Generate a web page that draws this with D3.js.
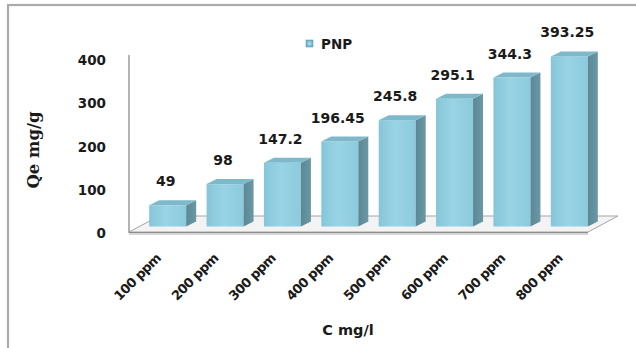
<!DOCTYPE html>
<html>
<head>
<meta charset="utf-8">
<script src="https://cdn.jsdelivr.net/npm/d3@7"></script>
<style>
  html, body { margin: 0; padding: 0; background: #fff; }
  svg { display: block; }
  text { font-family: "DejaVu Sans", sans-serif; font-weight: bold; fill: #1a1a1a; }
</style>
</head>
<body>
<svg id="chart" width="636" height="348"></svg>
<script>
// Adsorption capacity of PNP at increasing initial concentrations
const categories = ["100 ppm", "200 ppm", "300 ppm", "400 ppm", "500 ppm", "600 ppm", "700 ppm", "800 ppm"];
const pnpValues = [49, 98, 147.2, 196.45, 245.8, 295.1, 344.3, 393.25];
const valueLabels = ["49", "98", "147.2", "196.45", "245.8", "295.1", "344.3", "393.25"];
const yTicks = [0, 100, 200, 300, 400];
const seriesName = "PNP";
const xTitle = "C mg/l";
const yTitle = "Qe mg/g";

const svg = d3.select("#chart");
const defs = svg.append("defs");

// Outer chart frame
svg.append("rect")
  .attr("x", 8).attr("y", 5).attr("width", 660).attr("height", 380)
  .attr("fill", "none").attr("stroke", "#ababab").attr("stroke-width", 2.2);

// Scales
const plotLeft = 129, plotRight = 588;
const y = d3.scaleLinear().domain([0, 400]).range([233, 60]);
const x = d3.scaleBand().domain(categories).range([plotLeft, plotRight])
  .paddingInner(0.355).paddingOuter(0.1775);

// 3-D geometry: floor depth and column position/depth within it
const floorDx = 30, floorDy = -16;
const barShiftX = 10, barShiftY = -6.5;
const barDepthX = 10, barDepthY = -5;

// Gradients for column faces
const gFront = defs.append("linearGradient").attr("id", "front").attr("x1", 0).attr("x2", 1).attr("y1", 0).attr("y2", 0);
gFront.append("stop").attr("offset", "0%").attr("stop-color", "#86c5d8");
gFront.append("stop").attr("offset", "45%").attr("stop-color", "#99d4e5");
gFront.append("stop").attr("offset", "100%").attr("stop-color", "#8bcadd");
const gSide = defs.append("linearGradient").attr("id", "side").attr("x1", 0).attr("x2", 1).attr("y1", 0).attr("y2", 0);
gSide.append("stop").attr("offset", "0%").attr("stop-color", "#5c8895");
gSide.append("stop").attr("offset", "100%").attr("stop-color", "#6a98a5");
const gLegend = defs.append("radialGradient").attr("id", "legendFill");
gLegend.append("stop").attr("offset", "0%").attr("stop-color", "#b4e6f2");
gLegend.append("stop").attr("offset", "100%").attr("stop-color", "#6aaabd");

// Floor
const y0 = y(0) - 1;
svg.append("polygon")
  .attr("points", [
    [plotLeft, y0], [plotRight, y0],
    [plotRight + floorDx, y0 + floorDy], [plotLeft + floorDx, y0 + floorDy]
  ].map(p => p.join(",")).join(" "))
  .attr("fill", "#f3f3f3").attr("stroke", "#a5a5a5").attr("stroke-width", 1);
svg.append("line")
  .attr("x1", plotLeft).attr("x2", plotRight).attr("y1", y0 + 2).attr("y2", y0 + 2)
  .attr("stroke", "#d6d6d6").attr("stroke-width", 2);

// Vertical axis line
svg.append("line")
  .attr("x1", plotLeft).attr("x2", plotLeft).attr("y1", 55).attr("y2", y0 + 1)
  .attr("stroke", "#8c8c8c").attr("stroke-width", 1.3);
svg.append("line")
  .attr("x1", plotLeft).attr("x2", plotRight).attr("y1", y0 + 0.5).attr("y2", y0 + 0.5)
  .attr("stroke", "#8c8c8c").attr("stroke-width", 1.2);

// Y tick labels
svg.append("g").selectAll("text").data(yTicks).join("text")
  .attr("x", 106).attr("y", d => y(d))
  .attr("text-anchor", "end").attr("dominant-baseline", "central")
  .style("font-size", "13.5px")
  .text(d => d);

// Columns
const bars = svg.append("g").selectAll("g").data(pnpValues).join("g");
const bw = x.bandwidth();
const fx = (d, i) => x(categories[i]) + barShiftX;
const base = y(0) + barShiftY;
const barTop = d => base - (y(0) - y(d));

bars.append("rect")
  .attr("x", fx).attr("y", d => barTop(d))
  .attr("width", bw).attr("height", d => base - barTop(d))
  .attr("fill", "url(#front)");
bars.append("polygon")
  .attr("points", (d, i) => {
    const l = fx(d, i) + bw, t = barTop(d);
    return [[l, t], [l + barDepthX, t + barDepthY], [l + barDepthX, base + barDepthY], [l, base]]
      .map(p => p.join(",")).join(" ");
  })
  .attr("fill", "url(#side)");
bars.append("polygon")
  .attr("points", (d, i) => {
    const l = fx(d, i), t = barTop(d);
    return [[l, t], [l + bw, t], [l + bw + barDepthX, t + barDepthY], [l + barDepthX, t + barDepthY]]
      .map(p => p.join(",")).join(" ");
  })
  .attr("fill", "#7db9ca");

// Value labels
svg.append("g").selectAll("text").data(pnpValues).join("text")
  .attr("x", (d, i) => fx(d, i) + bw / 2 - 2)
  .attr("y", d => barTop(d) + barDepthY - 14)
  .attr("text-anchor", "middle")
  .style("font-size", "14px")
  .text((d, i) => valueLabels[i]);

// Category labels, rotated
svg.append("g").selectAll("text").data(categories).join("text")
  .attr("transform", d => `translate(${x(d) + bw / 2 + 4},${259}) rotate(-45)`)
  .attr("text-anchor", "end")
  .style("font-size", "13px")
  .style("letter-spacing", "-0.6px")
  .text(d => d);

// Axis titles
svg.append("text")
  .attr("x", 348).attr("y", 335)
  .attr("text-anchor", "middle")
  .style("font-size", "14.5px")
  .text(xTitle);
svg.append("text")
  .attr("transform", "translate(39,150) rotate(-90)")
  .attr("text-anchor", "middle")
  .style("font-family", "'DejaVu Serif', serif")
  .style("font-size", "16.5px")
  .text(yTitle);

// Legend
svg.append("rect")
  .attr("x", 306).attr("y", 40).attr("width", 7).attr("height", 7)
  .attr("fill", "url(#legendFill)").attr("stroke", "#6aa3b4").attr("stroke-width", 0.6);
svg.append("text")
  .attr("x", 321).attr("y", 44).attr("dominant-baseline", "central")
  .style("font-size", "13.5px")
  .text(seriesName);
</script>
</body>
</html>
